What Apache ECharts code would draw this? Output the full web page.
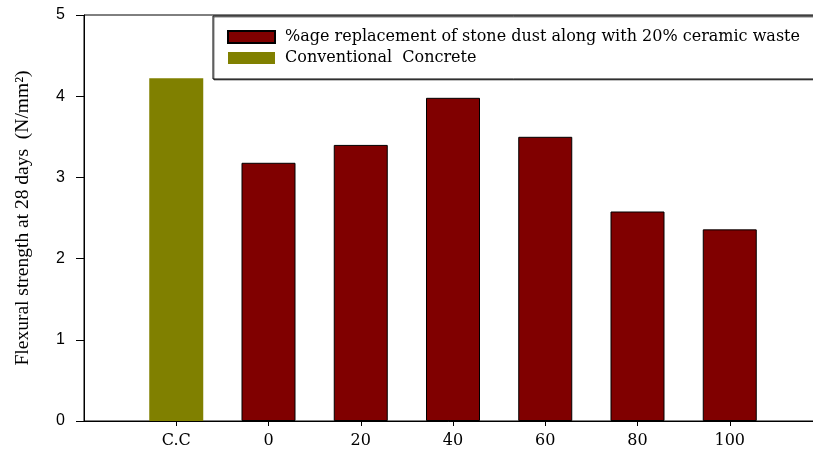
<!DOCTYPE html>
<html>
<head>
<meta charset="utf-8">
<script src="https://cdn.jsdelivr.net/npm/echarts@6/dist/echarts.min.js"></script>
<style>
html,body{margin:0;padding:0;background:#fff;}
#chart{width:813px;height:453px;}
</style>
</head>
<body>
<div id="chart"></div>
<script>
// Data
const xCategories = ['', 'C.C', '0', '20', '40', '60', '80', '100', ''];
const conventionalName = 'Conventional  Concrete';
const replacementName = '%age replacement of stone dust along with 20% ceramic waste';
const conventionalValues = [null, 4.22, null, null, null, null, null, null, null];
const replacementValues = [null, null, 3.18, 3.40, 3.98, 3.50, 2.58, 2.36, null];
const yTicks = [0, 1, 2, 3, 4, 5];
const yTitle = 'Flexural strength at 28 days  (N/mm²)';

const chart = echarts.init(document.getElementById('chart'), null, {renderer: 'canvas'});
const serif = '"Liberation Serif", "Times New Roman", serif';
const wideSerif = '"DejaVu Serif", "Liberation Serif", serif';
const sans = '"Liberation Sans", Arial, sans-serif';
const hideEnds = (i) => i !== 0 && i !== xCategories.length - 1;

chart.setOption({
  animation: false,
  backgroundColor: '#fff',
  grid: {left: 84, width: 738, top: 15, bottom: 32, show: true, borderColor: '#000', borderWidth: 1,
         containLabel: false, outerBoundsMode: 'none'},
  legend: {
    orient: 'vertical',
    left: 213, top: 16,
    data: [replacementName, conventionalName],
    itemWidth: 47, itemHeight: 12, itemGap: 5,
    padding: [13, 80, 13, 14],
    borderColor: '#000', borderWidth: 1,
    shadowColor: 'rgba(0,0,0,0.5)', shadowOffsetX: 1, shadowOffsetY: 1, shadowBlur: 0,
    backgroundColor: '#fff',
    icon: 'rect',
    textStyle: {fontFamily: wideSerif, fontSize: 16, lineHeight: 16, color: '#000', padding: [0, 0, 0, 5]},
    selectedMode: false
  },
  xAxis: {
    type: 'category',
    data: xCategories,
    boundaryGap: false,
    axisLine: {lineStyle: {color: '#000', width: 1}},
    axisTick: {show: true, length: 5, inside: false, interval: hideEnds, lineStyle: {color: '#000'}},
    axisLabel: {interval: hideEnds, fontFamily: wideSerif, fontSize: 16, color: '#000', margin: 12},
    splitLine: {show: false}
  },
  yAxis: {
    type: 'value',
    min: yTicks[0], max: yTicks[yTicks.length - 1], interval: 1,
    name: yTitle,
    nameLocation: 'middle',
    nameGap: 51,
    nameTextStyle: {fontFamily: serif, fontSize: 19.5, color: '#000'},
    axisLine: {show: true, lineStyle: {color: '#000', width: 1}},
    axisTick: {show: true, length: 8, inside: false, lineStyle: {color: '#000'}},
    axisLabel: {fontFamily: sans, fontSize: 16, color: '#000', margin: 19},
    splitLine: {show: false}
  },
  series: [
    {
      name: replacementName,
      type: 'bar',
      data: replacementValues,
      barWidth: 54,
      itemStyle: {color: '#800000', borderColor: '#000', borderWidth: 1}
    },
    {
      name: conventionalName,
      type: 'bar',
      data: conventionalValues,
      barWidth: 54,
      barGap: '-100%',
      itemStyle: {color: '#808000', borderWidth: 0}
    }
  ]
});
</script>
</body>
</html>
